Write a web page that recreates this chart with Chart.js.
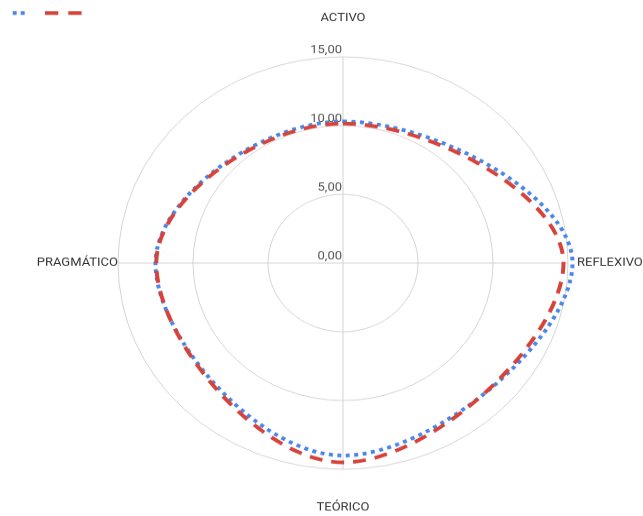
<!DOCTYPE html>
<html>
<head>
<meta charset="utf-8">
<script src="https://cdn.jsdelivr.net/npm/chart.js@4.4.1/dist/chart.umd.min.js"></script>
<style>
  html, body { margin: 0; padding: 0; background: #fff; overflow: hidden; }
  #wrap {
    position: absolute; left: 0; top: 0;
    width: 643px; height: 563px;
    transform: scaleY(0.9165); transform-origin: 0 0;
  }
</style>
</head>
<body>
<div id="wrap"><canvas id="c"></canvas></div>
<script>
// Learning-style profile: two groups compared on four axes
const categories = ['ACTIVO', 'REFLEXIVO', 'TEÓRICO', 'PRAGMÁTICO'];
const seriesDotted = [10.3, 15.3, 14.0, 12.5];
const seriesDashed = [10.15, 14.7, 14.5, 12.45];
const scaleMin = 0;
const scaleMax = 15;
const tickStep = 5;

const FONT = 'Roboto, "Noto Sans", sans-serif';
const BLUE = '#4a86e8';
const RED = '#d6433a';

function fmt(v) { return v.toFixed(2).replace('.', ','); }

// distance of each category label beyond the outer ring
const labelGaps = [42, 9, 42, 0];

const overlay = {
  id: 'overlay',
  beforeDatasetsDraw(chart) {
    const ctx = chart.ctx, r = chart.scales.r;
    ctx.save();
    ctx.font = '13px ' + FONT;
    ctx.fillStyle = '#555';
    ctx.textAlign = 'right';
    ctx.textBaseline = 'middle';
    r.ticks.forEach(t => {
      const d = r.getDistanceFromCenterForValue(t.value);
      ctx.fillText(fmt(t.value), r.xCenter - 1, r.yCenter - d - 7.6);
    });
    ctx.restore();
  },
  afterDraw(chart) {
    const ctx = chart.ctx, r = chart.scales.r;
    ctx.save();
    ctx.font = '13px ' + FONT;
    ctx.fillStyle = '#333';
    ctx.textBaseline = 'middle';
    chart.data.labels.forEach((lab, i) => {
      const p = r.getPointPosition(i, r.drawingArea + labelGaps[i]);
      const dx = p.x - r.xCenter;
      ctx.textAlign = Math.abs(dx) < 1 ? 'center' : (dx > 0 ? 'left' : 'right');
      ctx.fillText(lab, p.x, p.y);
    });

    // legend samples (series have no names)
    const samples = [
      { ds: chart.data.datasets[0], x: 12.7, len: 12 },
      { ds: chart.data.datasets[1], x: 45, len: 37 }
    ];
    samples.forEach(s => {
      ctx.beginPath();
      ctx.strokeStyle = s.ds.borderColor;
      ctx.lineWidth = s.ds.borderWidth;
      ctx.lineCap = 'butt';
      ctx.setLineDash(s.ds.legendDash);
      ctx.moveTo(s.x, 14.2);
      ctx.lineTo(s.x + s.len, 14.2);
      ctx.stroke();
    });
    ctx.restore();
  }
};

new Chart(document.getElementById('c'), {
  type: 'radar',
  data: {
    labels: categories,
    datasets: [
      {
        label: '',
        data: seriesDotted,
        borderColor: BLUE,
        borderWidth: 4,
        borderDash: [4, 4.5],
        legendDash: [4, 4],
        borderCapStyle: 'butt',
        fill: false,
        pointRadius: 0,
        tension: 0.42,
        capBezierPoints: false,
        clip: false,
        order: 1
      },
      {
        label: '',
        data: seriesDashed,
        borderColor: RED,
        borderWidth: 4,
        borderDash: [13, 9],
        legendDash: [13.3, 10],
        borderCapStyle: 'butt',
        fill: false,
        pointRadius: 0,
        tension: 0.42,
        capBezierPoints: false,
        clip: false,
        order: 0
      }
    ]
  },
  options: {
    responsive: true,
    maintainAspectRatio: false,
    animation: false,
    layout: { padding: { left: 118, right: 75, top: 62, bottom: 51 } },
    plugins: { legend: { display: false }, tooltip: { enabled: false } },
    scales: {
      r: {
        min: scaleMin,
        max: scaleMax,
        ticks: { stepSize: tickStep, display: false },
        grid: { circular: true, color: '#d4d4d4', lineWidth: 1 },
        angleLines: { display: true, color: '#d4d4d4', lineWidth: 1 },
        pointLabels: { display: false }
      }
    }
  },
  plugins: [overlay]
});
</script>
</body>
</html>
